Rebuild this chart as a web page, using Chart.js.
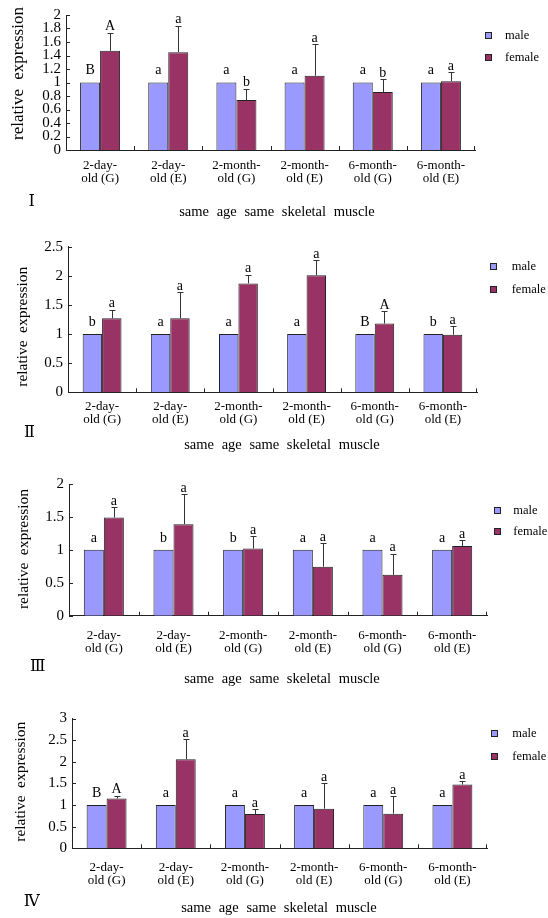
<!DOCTYPE html>
<html>
<head>
<meta charset="utf-8">
<script src="https://cdn.jsdelivr.net/npm/chart.js@4/dist/chart.umd.min.js"></script>
<style>
html,body{margin:0;padding:0;background:#fff;}
body{width:548px;height:918px;position:relative;overflow:hidden;}
canvas{position:absolute;left:0;}
</style>
</head>
<body>
<canvas id="c1"></canvas>
<canvas id="c2"></canvas>
<canvas id="c3"></canvas>
<canvas id="c4"></canvas>
<script>
// ---------------- data ----------------
const categories = [
  ['2-day-', 'old (G)'], ['2-day-', 'old (E)'],
  ['2-month-', 'old (G)'], ['2-month-', 'old (E)'],
  ['6-month-', 'old (G)'], ['6-month-', 'old (E)']
];
const seriesNames = ['male', 'female'];
const panelNumerals = ['Ⅰ', 'Ⅱ', 'Ⅲ', 'Ⅳ'];
const yAxisTitle = 'relative expression';
const xAxisTitle = 'same age same skeletal muscle';

// panel I
const maleI = [1, 1, 1, 1, 1, 1];
const femaleI = [1.47, 1.45, 0.74, 1.10, 0.86, 1.02];
const femaleErrI = [0.27, 0.39, 0.17, 0.47, 0.19, 0.13];
const maleLettersI = ['B', 'a', 'a', 'a', 'a', 'a'];
const femaleLettersI = ['A', 'a', 'b', 'a', 'b', 'a'];
const yTicksI = { min: 0, max: 2, step: 0.2 };

// panel II
const maleII = [1, 1, 1, 1, 1, 1];
const femaleII = [1.27, 1.27, 1.87, 2.01, 1.18, 0.99];
const femaleErrII = [0.15, 0.45, 0.15, 0.26, 0.21, 0.15];
const maleLettersII = ['b', 'a', 'a', 'a', 'B', 'b'];
const femaleLettersII = ['a', 'a', 'a', 'a', 'A', 'a'];
const yTicksII = { min: 0, max: 2.5, step: 0.5 };

// panel III
const maleIII = [1, 1, 1, 1, 1, 1];
const femaleIII = [1.49, 1.39, 1.02, 0.745, 0.62, 1.06];
const femaleErrIII = [0.16, 0.455, 0.19, 0.355, 0.32, 0.09];
const maleLettersIII = ['a', 'b', 'b', 'a', 'a', 'a'];
const femaleLettersIII = ['a', 'a', 'a', 'a', 'a', 'a'];
const yTicksIII = { min: 0, max: 2, step: 0.5 };

// panel IV
const maleIV = [1, 1, 1, 1, 1, 1];
const femaleIV = [1.15, 2.06, 0.79, 0.915, 0.80, 1.475];
const femaleErrIV = [0.07, 0.46, 0.12, 0.595, 0.41, 0.08];
const maleLettersIV = ['B', 'a', 'a', 'a', 'a', 'a'];
const femaleLettersIV = ['A', 'a', 'a', 'a', 'a', 'a'];
const yTicksIV = { min: 0, max: 3, step: 0.5 };

// ---------------- style / layout ----------------
const SERIF = "'Liberation Serif', 'Times New Roman', 'DejaVu Serif', serif";
const MALE_COLOR = '#9999FF';
const FEMALE_COLOR = '#993366';
const EDGE = '#222222';
Chart.defaults.font.family = SERIF;
Chart.defaults.color = '#000';

const panels = [
  { id: 'c1', top: 0, height: 222, left: 66, right: 475, plotTop: 15, plotBottom: 150,
    male: maleI, female: femaleI, err: femaleErrI, mL: maleLettersI, fL: femaleLettersI, yt: yTicksI,
    catPct: 0.587, xPad: 9.5, numeral: panelNumerals[0], numX: 31.7, numY: 201.7,
    xtX: 277, xtY: 211.7, ytX: 19, ytY: 73.5, ytSize: 17, ytWS: 5,
    legX: 488, legY1: 35, legY2: 57, legTX: 505 },
  { id: 'c2', top: 222, height: 230, left: 68, right: 477, plotTop: 246.7, plotBottom: 392.3,
    male: maleII, female: femaleII, err: femaleErrII, mL: maleLettersII, fL: femaleLettersII, yt: yTicksII,
    catPct: 0.57, xPad: 8, numeral: panelNumerals[1], numX: 29.5, numY: 433,
    xtX: 282, xtY: 445, ytX: 23, ytY: 326.7, ytSize: 15.5, ytWS: 3.5,
    legX: 493, legY1: 266.7, legY2: 289.3, legTX: 511.7 },
  { id: 'c3', top: 452, height: 234, left: 69, right: 487, plotTop: 484, plotBottom: 615.7,
    male: maleIII, female: femaleIII, err: femaleErrIII, mL: maleLettersIII, fL: femaleLettersIII, yt: yTicksIII,
    catPct: 0.575, xPad: 13, numeral: panelNumerals[2], numX: 37.7, numY: 666.7,
    xtX: 282, xtY: 679, ytX: 24, ytY: 549, ytSize: 15.5, ytWS: 3.5,
    legX: 497.3, legY1: 510.7, legY2: 531.7, legTX: 513.3 },
  { id: 'c4', top: 686, height: 232, left: 72, right: 487, plotTop: 718.5, plotBottom: 848.3,
    male: maleIV, female: femaleIV, err: femaleErrIV, mL: maleLettersIV, fL: femaleLettersIV, yt: yTicksIV,
    catPct: 0.577, xPad: 13, numeral: panelNumerals[3], numX: 31.7, numY: 901.7,
    xtX: 279, xtY: 908, ytX: 21, ytY: 781.7, ytSize: 15.5, ytWS: 3.5,
    legX: 494.3, legY1: 733.3, legY2: 756.7, legTX: 512.3 }
];

function seg(ctx, x1, y1, x2, y2) {
  ctx.beginPath(); ctx.moveTo(x1, y1); ctx.lineTo(x2, y2); ctx.stroke();
}

function annotPlugin(p) {
  return {
    id: 'annot_' + p.id,
    afterDraw(chart) {
      const ctx = chart.ctx, xs = chart.scales.x, ys = chart.scales.y, ca = chart.chartArea;
      const o = p.top;
      ctx.save();
      ctx.strokeStyle = EDGE; ctx.lineWidth = 1;
      // inward y ticks
      ys.ticks.forEach((t, i) => {
        const py = Math.round(ys.getPixelForTick(i)) + 0.5;
        seg(ctx, ca.left, py, ca.left + 4, py);
      });
      // inward x ticks at category boundaries
      const n = chart.data.labels.length;
      for (let i = 1; i <= n; i++) {
        const px = i < n ? Math.round((xs.getPixelForValue(i - 1) + xs.getPixelForValue(i)) / 2) + 0.5
                         : Math.round(ca.right) - 0.5;
        seg(ctx, px, ca.bottom, px, ca.bottom - 4);
      }
      // error bars (upper)
      const fem = chart.getDatasetMeta(1);
      const mal = chart.getDatasetMeta(0);
      ctx.strokeStyle = '#333';
      fem.data.forEach((bar, i) => {
        const v = p.female[i], e = p.err[i];
        const yTop = Math.round(ys.getPixelForValue(v + e)) + 0.5;
        const yBar = ys.getPixelForValue(v);
        const cx = Math.round(bar.x) + 0.5;
        seg(ctx, cx, yBar, cx, yTop);
        seg(ctx, cx - 3, yTop, cx + 3, yTop);
      });
      // significance letters
      ctx.fillStyle = '#000';
      ctx.font = '14px ' + SERIF;
      ctx.textAlign = 'center';
      ctx.textBaseline = 'middle';
      mal.data.forEach((bar, i) => {
        ctx.fillText(p.mL[i], bar.x, ys.getPixelForValue(p.male[i]) - 12);
      });
      fem.data.forEach((bar, i) => {
        ctx.fillText(p.fL[i], bar.x, ys.getPixelForValue(p.female[i] + p.err[i]) - 6);
      });
      // legend
      const colors = [MALE_COLOR, FEMALE_COLOR];
      const ly = [p.legY1 - o, p.legY2 - o];
      ctx.font = '12.5px ' + SERIF;
      ctx.textAlign = 'left';
      seriesNames.forEach((name, k) => {
        const sx = Math.round(p.legX - 3.5), sy = Math.round(ly[k] - 3.5);
        ctx.fillStyle = EDGE;
        ctx.fillRect(sx, sy, 7, 7);
        ctx.fillStyle = colors[k];
        ctx.fillRect(sx + 1, sy + 1, 5, 5);
        ctx.fillStyle = '#000';
        ctx.fillText(name, p.legTX, ly[k] + 0.5);
      });
      // y axis title
      ctx.save();
      ctx.translate(p.ytX, p.ytY - o);
      ctx.rotate(-Math.PI / 2);
      ctx.font = p.ytSize + 'px ' + SERIF;
      if ('wordSpacing' in ctx) ctx.wordSpacing = p.ytWS + 'px';
      ctx.textAlign = 'center';
      ctx.fillText(yAxisTitle, 0, 0);
      ctx.restore();
      // x axis title
      ctx.font = '14.5px ' + SERIF;
      if ('wordSpacing' in ctx) ctx.wordSpacing = '4px';
      ctx.textAlign = 'center';
      ctx.fillText(xAxisTitle, p.xtX, p.xtY - o);
      if ('wordSpacing' in ctx) ctx.wordSpacing = '0px';
      // panel numeral
      ctx.font = '16px ' + SERIF;
      ctx.fillText(p.numeral, p.numX, p.numY - o);
      ctx.restore();
    }
  };
}

function makeChart(p) {
  const cv = document.getElementById(p.id);
  cv.width = 548; cv.height = p.height;
  cv.style.top = p.top + 'px';
  cv.style.width = '548px'; cv.style.height = p.height + 'px';
  const areaTop = p.plotTop - p.top;
  const areaBottom = p.plotBottom - p.top;
  new Chart(cv, {
    type: 'bar',
    data: {
      labels: categories,
      datasets: [
        { label: seriesNames[0], data: p.male, backgroundColor: MALE_COLOR, borderColor: EDGE,
          borderWidth: 1, categoryPercentage: p.catPct, barPercentage: 1 },
        { label: seriesNames[1], data: p.female, backgroundColor: FEMALE_COLOR, borderColor: EDGE,
          borderWidth: 1, categoryPercentage: p.catPct, barPercentage: 1 }
      ]
    },
    options: {
      responsive: false, animation: false, devicePixelRatio: 1,
      layout: { padding: { left: 0, top: areaTop, right: 548 - p.right, bottom: 0 } },
      plugins: { legend: { display: false }, tooltip: { enabled: false } },
      scales: {
        x: {
          offset: true,
          grid: { display: false, drawTicks: false },
          border: { display: true, color: EDGE, width: 1 },
          ticks: { font: { size: 13, lineHeight: 1.0 }, color: '#000', padding: p.xPad,
                   maxRotation: 0, minRotation: 0, autoSkip: false },
          afterFit(s) { s.height = p.height - areaBottom; }
        },
        y: {
          min: p.yt.min, max: p.yt.max,
          grid: { display: false, drawTicks: false },
          border: { display: true, color: EDGE, width: 1 },
          ticks: { stepSize: p.yt.step, font: { size: 15, lineHeight: 1.0 }, color: '#000', padding: 5,
                   autoSkip: false, callback: (v) => String(parseFloat(Number(v).toFixed(2))) },
          afterFit(s) { s.width = p.left; }
        }
      }
    },
    plugins: [annotPlugin(p)]
  });
}

panels.forEach(makeChart);
</script>
</body>
</html>
